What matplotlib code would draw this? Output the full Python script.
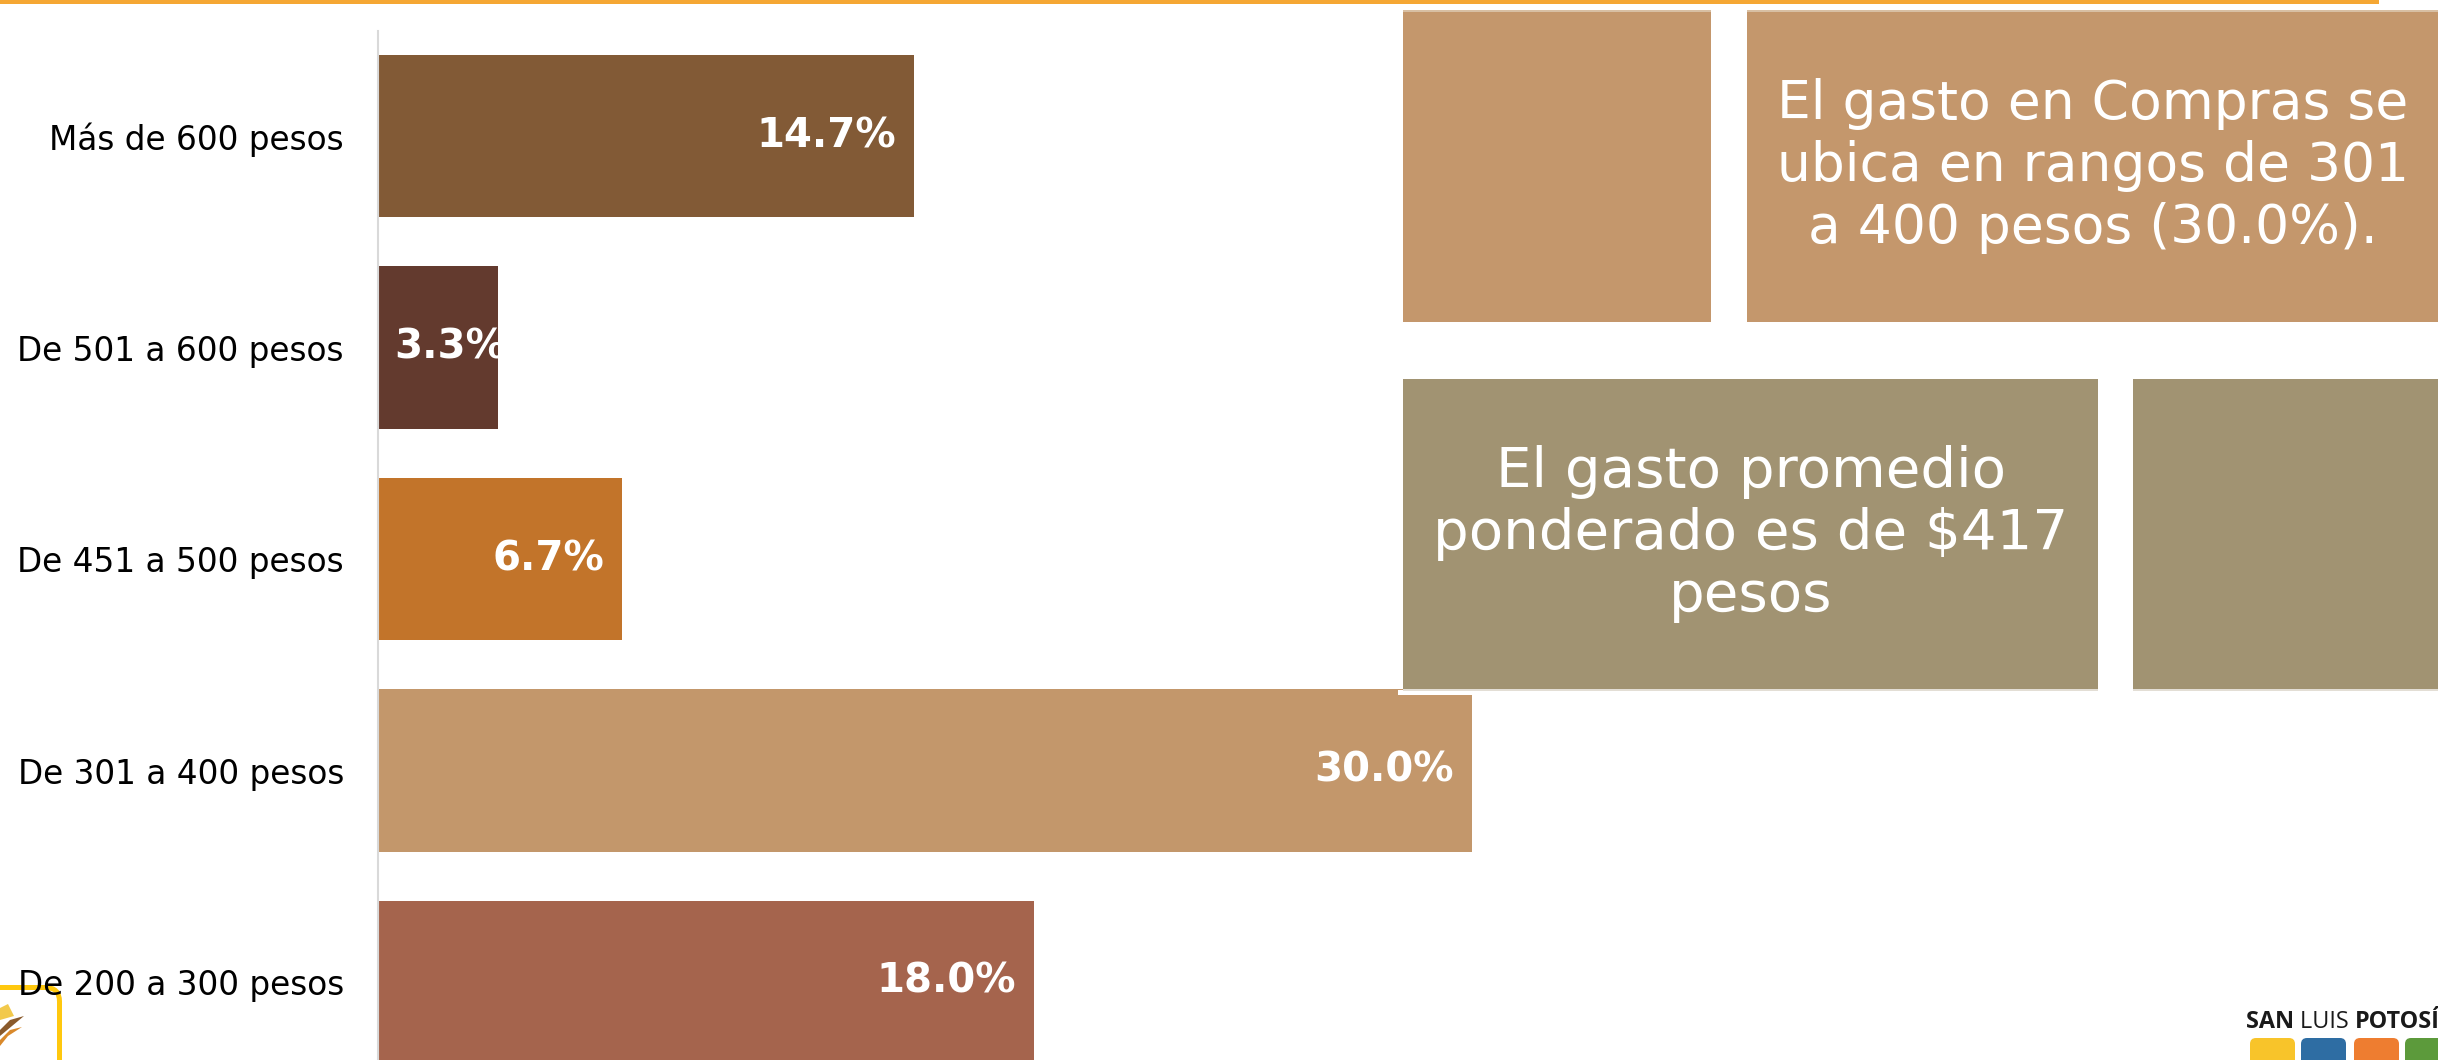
import matplotlib
matplotlib.use("Agg")
import matplotlib.pyplot as plt
from matplotlib.patches import Rectangle, FancyBboxPatch, Polygon
from matplotlib.transforms import Bbox, TransformedBbox, IdentityTransform

# datos del grafico
categorias = ["De 200 a 300 pesos", "De 301 a 400 pesos", "De 451 a 500 pesos",
              "De 501 a 600 pesos", "Más de 600 pesos"]
porcentajes = [18.0, 30.0, 6.7, 3.3, 14.7]
colores = ["#A5644D", "#C3976B", "#C2742A", "#633A2E", "#825A36"]

texto_compras = "El gasto en Compras se\nubica en rangos de 301\na 400 pesos (30.0%)."
texto_promedio = "El gasto promedio\nponderado es de $417\npesos"

W, H = 2438, 1060
plt.rcParams['font.family'] = ['DejaVu Sans']

fig = plt.figure(figsize=(W / 100, H / 100), dpi=100)
PIX = IdentityTransform()  # pixel coords, origin at bottom left


def rect_px(x, y, w, h, color, z=5, **kw):
    # x, y measured from the top-left corner
    fig.add_artist(Rectangle((x, H - y - h), w, h, transform=PIX,
                             facecolor=color, edgecolor='none', zorder=z, **kw))


# barras
ax = fig.add_axes([378 / W, 0, 1458 / W, 1029 / H])
ypos = list(range(len(categorias)))
bars = ax.barh(ypos, porcentajes, height=0.77, color=colores, zorder=2)
ax.set_xlim(0, 40)
ax.set_ylim(-0.3688, 4.4965)
ax.set_xticks([])
ax.set_yticks(ypos, categorias)
ax.tick_params(axis='y', length=0, pad=24.5, labelsize=23.6, labelcolor='black')
for s in ['top', 'right', 'bottom']:
    ax.spines[s].set_visible(False)
ax.spines['left'].set_color('#D9D9D9')
ax.spines['left'].set_linewidth(1.5)
ax.patch.set_visible(False)

for b, v in zip(bars, porcentajes):
    yc = b.get_y() + b.get_height() / 2
    if v < 5:
        t = ax.annotate(f"{v:.1f}%", (0, yc), xytext=(11.5, 0), textcoords='offset points',
                        ha='left', va='center', color='white', fontsize=29, fontweight='bold')
    else:
        t = ax.annotate(f"{v:.1f}%", (v, yc), xytext=(-13, 0), textcoords='offset points',
                        ha='right', va='center', color='white', fontsize=29, fontweight='bold')
    t.set_clip_box(TransformedBbox(Bbox([[0, b.get_y()], [v, b.get_y() + b.get_height()]]),
                                   ax.transData))

# linea naranja superior
rect_px(0, 0, 2379, 4, '#F5A733', z=6)

# cajas de texto
rect_px(1403, 10, 308, 312, '#C4976C')
rect_px(1747, 10, 720, 312, '#C4976C')
rect_px(1403, 10, 308, 2, '#D8BFA3', z=5.5)
rect_px(1747, 10, 720, 2, '#D8BFA3', z=5.5)
rect_px(1403, 379, 695, 311, '#A19372')
rect_px(2133, 379, 330, 311, '#A19372')
rect_px(1398, 690, 700, 5, 'white', z=4.5)
rect_px(1403, 689, 695, 2, '#E3DED5', z=5.5)
rect_px(2133, 689, 330, 2, '#E3DED5', z=5.5)

fig.text(2093 / W, 1 - 166 / H, texto_compras, ha='center', va='center', color='white',
         fontsize=38.5, linespacing=1.25, zorder=7)
fig.text(1751 / W, 1 - 534 / H, texto_promedio, ha='center', va='center', color='white',
         fontsize=40.5, linespacing=1.2, zorder=7)

# logo inferior derecho
t1 = fig.text(2246 / W, 1 - 1028 / H, "SAN ", fontsize=16.8, fontweight='bold',
              family='Open Sans', color='#1A1A1A', va='baseline', zorder=7)
t2 = ax.annotate("LUIS ", xy=(1, 0), xycoords=t1, va='bottom', ha='left', fontsize=16.8,
                 family='Open Sans', color='#1A1A1A', annotation_clip=False)
ax.annotate("POTOSÍ", xy=(1, 0), xycoords=t2, va='bottom', ha='left', fontsize=16.8,
            fontweight='bold', family='Open Sans', color='#1A1A1A', annotation_clip=False)
for x0, c in zip([2250, 2301, 2354, 2405], ['#F8C42A', '#2E6DA3', '#EE7D30', '#5C9A3B']):
    fig.add_artist(FancyBboxPatch((x0, H - 1080), 45, 42, boxstyle='round,pad=0,rounding_size=6',
                                  transform=PIX, facecolor=c, edgecolor='none', zorder=7))

# logo inferior izquierdo
fig.add_artist(FancyBboxPatch((-60, -40), 119.5, H - 987.5 + 40,
                              boxstyle='round,pad=0,rounding_size=14', transform=PIX,
                              facecolor='none', edgecolor='#FFC80E', linewidth=3.6, zorder=-1))
fig.add_artist(Polygon([(0, H - 1008), (8, H - 1004), (14, H - 1016), (0, H - 1020)],
                       transform=PIX, facecolor='#F2C94C', edgecolor='none', zorder=-1))
fig.add_artist(Polygon([(0, H - 1030), (10, H - 1020), (24, H - 1016), (12, H - 1026), (0, H - 1036)],
                       transform=PIX, facecolor='#8A5A2B', edgecolor='none', zorder=-1))
fig.add_artist(Polygon([(0, H - 1040), (10, H - 1030), (22, H - 1027), (8, H - 1036), (0, H - 1046)],
                       transform=PIX, facecolor='#D9892B', edgecolor='none', zorder=-1))

fig.savefig('out.png', dpi=100)
